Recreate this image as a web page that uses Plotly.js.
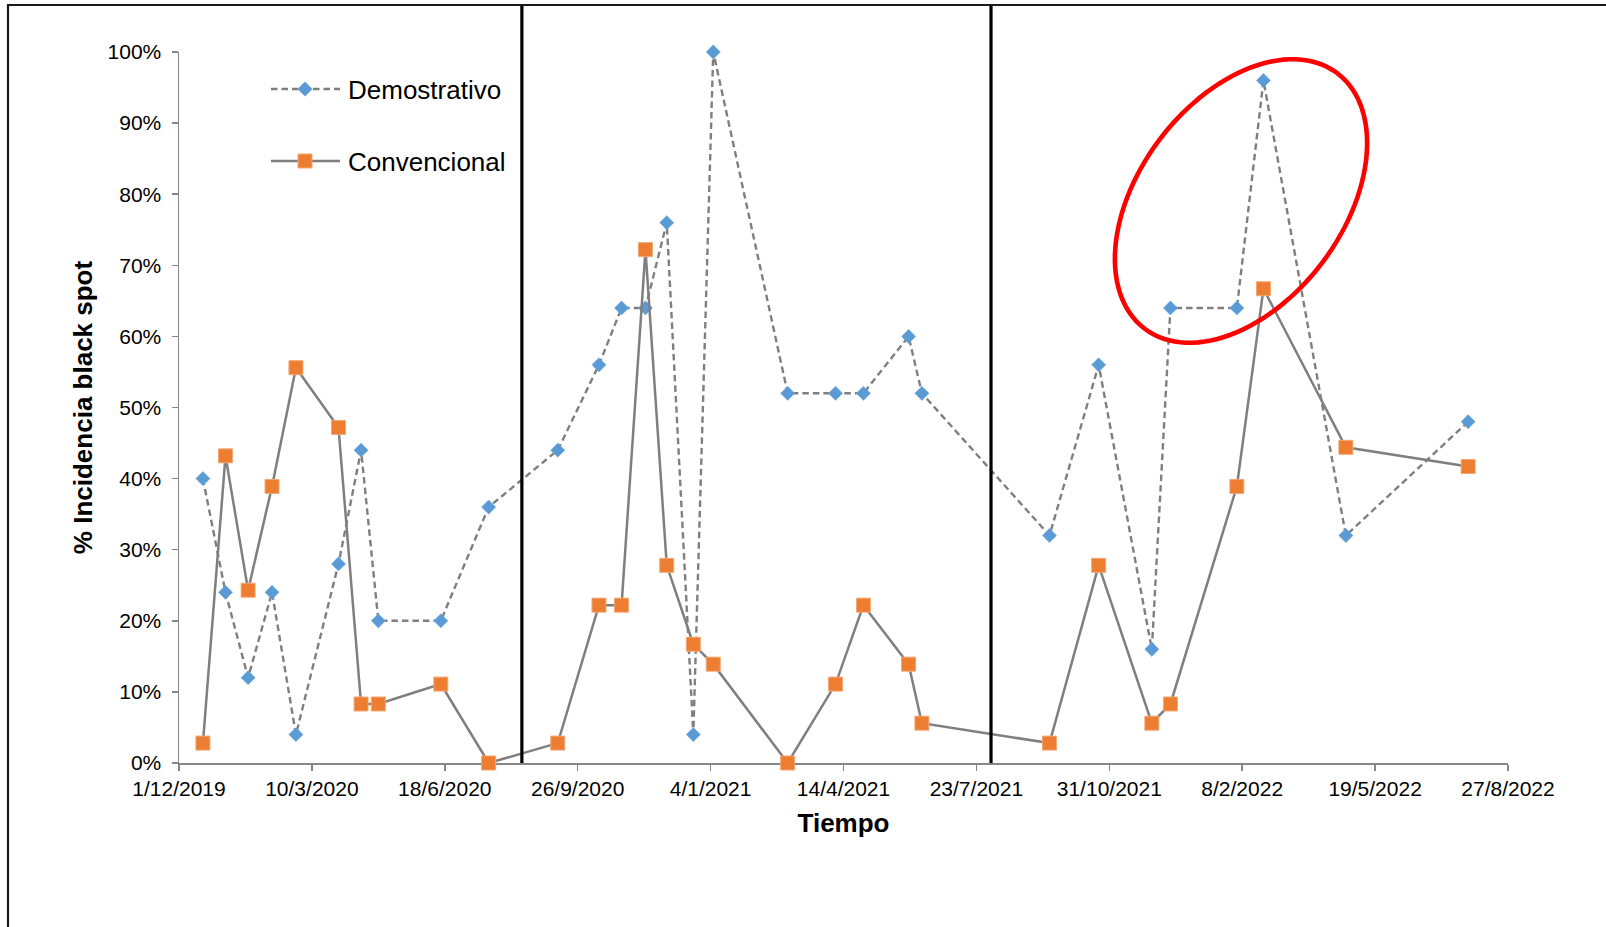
<!DOCTYPE html>
<html>
<head>
<meta charset="utf-8">
<script src="https://cdn.plot.ly/plotly-3.0.1.min.js"></script>
<style>
html,body{margin:0;padding:0;background:#fff;}
#chart{width:1606px;height:927px;}
</style>
</head>
<body>
<div id="chart"></div>
<script>
// ---- Data ----
const fechas = ['2019-12-19','2020-01-05','2020-01-22','2020-02-09','2020-02-27','2020-03-30',
  '2020-04-16','2020-04-29','2020-06-15','2020-07-21','2020-09-11','2020-10-12','2020-10-29',
  '2020-11-16','2020-12-02','2020-12-22','2021-01-06','2021-03-03','2021-04-08','2021-04-29',
  '2021-06-02','2021-06-12','2021-09-16','2021-10-23','2021-12-02','2021-12-16','2022-02-04',
  '2022-02-24','2022-04-27','2022-07-28'];
const demostrativo = [0.40,0.24,0.12,0.24,0.04,0.28,0.44,0.20,0.20,0.36,0.44,0.56,0.64,0.64,0.76,
  0.04,1.00,0.52,0.52,0.52,0.60,0.52,0.32,0.56,0.16,0.64,0.64,0.96,0.32,0.48];
const convencional = [0.028,0.432,0.243,0.389,0.556,0.472,0.083,0.083,0.111,0.000,0.028,0.222,0.222,
  0.722,0.278,0.167,0.139,0.000,0.111,0.222,0.139,0.056,0.028,0.278,0.056,0.083,0.389,0.667,0.444,0.417];
const separadores = ['2020-08-15','2021-08-03'];
const nombres = ['Demostrativo','Convencional'];
const tituloX = 'Tiempo';
const tituloY = '% Incidencia black spot';

// ---- Layout geometry (pixels) ----
const W = 1606, H = 927;
const L = 179, R = 1508, T = 52, B = 763;
const px = x => (x - L) / (R - L);
const py = y => (B - y) / (B - T);

const FONT = 'Arial, "Liberation Sans", sans-serif';
const GRIS = '#7F7F7F';
const AZUL = '#5B9BD5';
const NARANJA = '#ED7D31';
const EJE = '#868686';
const DASH = '6.5px,4px';

const trazas = [
  {
    x: fechas, y: demostrativo, name: nombres[0], type: 'scatter', mode: 'lines+markers',
    line: {color: GRIS, width: 2.4, dash: DASH},
    marker: {symbol: 'diamond', size: 11, color: AZUL, line: {width: 0.5, color: '#7FB2E0'}},
    cliponaxis: false, showlegend: false
  },
  {
    x: fechas, y: convencional, name: nombres[1], type: 'scatter', mode: 'lines+markers',
    line: {color: GRIS, width: 2.5},
    marker: {symbol: 'square', size: 14, color: NARANJA, line: {width: 1, color: '#F5A773'}},
    cliponaxis: false, showlegend: false
  }
];

// ---- Shapes: frame, season separators, highlight ellipse, legend ----
const shapes = [];
// outer frame (extends beyond the image at right/bottom)
shapes.push({type: 'rect', xref: 'paper', yref: 'paper', x0: px(8), x1: px(1650), y0: py(5), y1: py(980),
  line: {color: '#1a1a1a', width: 2.2}, fillcolor: 'rgba(0,0,0,0)', layer: 'above'});
// vertical separators
separadores.forEach(f => shapes.push({type: 'line', xref: 'x', yref: 'paper', x0: f, x1: f,
  y0: 0, y1: py(6), line: {color: '#000', width: 3.2}}));
// red ellipse
(function () {
  const cx = 1241, cy = 201, a = 160, b = 102, th = 53 * Math.PI / 180;
  let d = '';
  for (let i = 0; i <= 120; i++) {
    const t = 2 * Math.PI * i / 120;
    const x = cx + a * Math.cos(t) * Math.cos(th) - b * Math.sin(t) * Math.sin(th);
    const y = cy - (a * Math.cos(t) * Math.sin(th) + b * Math.sin(t) * Math.cos(th));
    d += (i === 0 ? 'M' : 'L') + px(x).toFixed(5) + ',' + py(y).toFixed(5) + ' ';
  }
  d += 'Z';
  shapes.push({type: 'path', xref: 'paper', yref: 'paper', path: d, line: {color: '#FF0000', width: 4.6}});
})();
// legend samples
const legY = [89, 161];
shapes.push({type: 'line', xref: 'paper', yref: 'paper', x0: px(271), x1: px(340), y0: py(legY[0]), y1: py(legY[0]),
  line: {color: GRIS, width: 2.4, dash: DASH}});
shapes.push({type: 'line', xref: 'paper', yref: 'paper', x0: px(271), x1: px(340), y0: py(legY[1]), y1: py(legY[1]),
  line: {color: GRIS, width: 2.5}});
(function () {
  const c = 305, r = 7.2;
  shapes.push({type: 'path', xref: 'paper', yref: 'paper',
    path: `M${px(c - r)},${py(legY[0])} L${px(c)},${py(legY[0] - r)} L${px(c + r)},${py(legY[0])} L${px(c)},${py(legY[0] + r)} Z`,
    fillcolor: AZUL, line: {color: AZUL, width: 0.5}});
  const s = 7;
  shapes.push({type: 'rect', xref: 'paper', yref: 'paper', x0: px(c - s), x1: px(c + s), y0: py(legY[1] + s), y1: py(legY[1] - s),
    fillcolor: NARANJA, line: {color: '#F5A773', width: 1}});
})();

const annotations = nombres.map((n, i) => ({
  text: n, xref: 'paper', yref: 'paper', x: px(346), y: py(legY[i] + 1), xanchor: 'left', yanchor: 'middle',
  showarrow: false, font: {family: FONT, size: 26, color: '#000'}
}));

const layout = {
  width: W, height: H,
  margin: {l: L, r: W - R, t: T, b: H - B, pad: 0},
  paper_bgcolor: '#fff', plot_bgcolor: '#fff',
  showlegend: false,
  font: {family: FONT, color: '#000'},
  xaxis: {
    type: 'date', range: ['2019-12-01', '2022-08-27'],
    tick0: '2019-12-01', dtick: 100 * 86400000, tickformat: '%-d/%-m/%Y',
    showgrid: false, zeroline: false, showline: true, linecolor: EJE, linewidth: 1.5,
    ticks: 'outside', ticklen: 6, tickwidth: 1.5, tickcolor: EJE,
    tickfont: {family: FONT, size: 21, color: '#000'},
    title: {text: '<b>' + tituloX + '</b>', font: {family: FONT, size: 26, color: '#000'}, standoff: 15},
    automargin: false, layer: 'below traces', fixedrange: true
  },
  yaxis: {
    range: [0, 1], dtick: 0.1, tickformat: '.0%',
    showgrid: false, zeroline: false, showline: true, linecolor: EJE, linewidth: 1.5,
    ticks: 'outside', ticklen: 6, tickwidth: 1.5, tickcolor: EJE, ticklabelstandoff: 6,
    tickfont: {family: FONT, size: 21, color: '#000'},
    title: {text: '<b>' + tituloY + '</b>', font: {family: FONT, size: 26, color: '#000'}, standoff: 7},
    automargin: false, layer: 'below traces', fixedrange: true
  },
  shapes: shapes,
  annotations: annotations
};

Plotly.newPlot('chart', trazas, layout, {displayModeBar: false, staticPlot: true});
</script>
</body>
</html>
